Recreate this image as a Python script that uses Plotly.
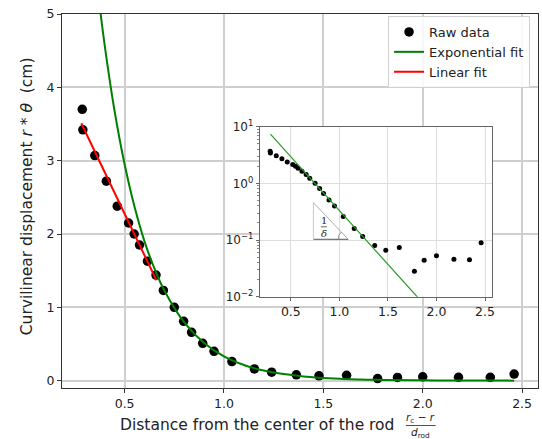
import plotly.graph_objects as go

# ---------------- data ----------------
x_raw = [0.287, 0.29, 0.35, 0.408, 0.463, 0.52, 0.548, 0.575, 0.615, 0.658,
         0.695, 0.75, 0.797, 0.837, 0.893, 0.95, 1.04, 1.153, 1.24, 1.364,
         1.478, 1.617, 1.773, 1.873, 2.0, 2.18, 2.34, 2.46]
y_raw = [3.70, 3.42, 3.07, 2.72, 2.38, 2.15, 2.0, 1.85, 1.63, 1.44,
         1.23, 1.0, 0.81, 0.66, 0.51, 0.40, 0.26, 0.16, 0.115, 0.08,
         0.066, 0.074, 0.028, 0.044, 0.053, 0.046, 0.045, 0.09]

x_exp = [0.29, 0.32, 0.35, 0.375, 0.40, 0.45, 0.50, 0.55, 0.60, 0.65, 0.70,
         0.80, 0.90, 1.00, 1.10, 1.20, 1.40, 1.60, 1.80, 2.00, 2.20, 2.46]
y_exp = [7.40, 6.49, 5.69, 5.10, 4.57, 3.67, 2.95, 2.37, 1.90, 1.53, 1.23,
         0.795, 0.513, 0.331, 0.214, 0.138, 0.0576, 0.024, 0.010, 0.0042,
         0.00174, 0.00056]

x_lin = [0.282, 0.66]
y_lin = [3.51, 1.37]

main_xticks = [0.5, 1.0, 1.5, 2.0, 2.5]
main_xticktext = ["0.5", "1.0", "1.5", "2.0", "2.5"]
main_yticks = [0, 1, 2, 3, 4, 5]
inset_yticks = [0.01, 0.1, 1, 10]
inset_yticktext = ["10<sup>−2</sup>", "10<sup>−1</sup>", "10<sup>0</sup>", "10<sup>1</sup>"]

# ---------------- layout geometry ----------------
W, H = 542, 439
L, R, T, B = 62, 1, 14, 51
PW, PH = W - L - R, H - T - B


def px(xp):
    return (xp - L) / PW


def py(yp):
    return (H - B - yp) / PH


FONT = "DejaVu Sans"
TXT = "#222222"

fig = go.Figure()

# main plot
fig.add_trace(go.Scatter(x=x_raw, y=y_raw, mode="markers", name="Raw data",
                         marker=dict(color="black", size=9.5), xaxis="x", yaxis="y"))
fig.add_trace(go.Scatter(x=x_exp, y=y_exp, mode="lines", name="Exponential fit",
                         line=dict(color="#008000", width=2, shape="spline"),
                         xaxis="x", yaxis="y"))
fig.add_trace(go.Scatter(x=x_lin, y=y_lin, mode="lines", name="Linear fit",
                         line=dict(color="#ff0000", width=2), xaxis="x", yaxis="y"))

# inset
fig.add_trace(go.Scatter(x=x_raw, y=y_raw, mode="markers", showlegend=False,
                         marker=dict(color="black", size=5), xaxis="x2", yaxis="y2"))
fig.add_trace(go.Scatter(x=x_exp, y=y_exp, mode="lines", showlegend=False,
                         line=dict(color="#2a9a2a", width=1.2), xaxis="x2", yaxis="y2"))

ix0, ix1 = px(261), px(495)
iy0, iy1 = py(296.7), py(126.7)

fig.update_layout(
    width=W, height=H,
    margin=dict(l=L, r=R, t=T, b=B),
    paper_bgcolor="white", plot_bgcolor="white",
    font=dict(family=FONT, color=TXT, size=12.5),
    xaxis=dict(domain=[0, 1], range=[0.185, 2.58], tickvals=main_xticks,
               ticktext=main_xticktext,
               showgrid=True, gridcolor="#cfcfcf", gridwidth=1.5,
               showline=True, linecolor="#333333", linewidth=1.3, mirror=True,
               ticks="outside", ticklen=4, tickcolor="#333333", zeroline=False,
               tickfont=dict(size=12.5)),
    yaxis=dict(domain=[0, 1], range=[-0.1, 5.0], tickvals=main_yticks,
               showgrid=True, gridcolor="#cfcfcf", gridwidth=1.5,
               showline=True, linecolor="#333333", linewidth=1.3, mirror=True,
               ticks="outside", ticklen=4, tickcolor="#333333", zeroline=False,
               tickfont=dict(size=12.5)),
    xaxis2=dict(domain=[ix0, ix1], anchor="y2", range=[0.18, 2.575],
                tickvals=main_xticks, ticktext=main_xticktext,
                showgrid=True, gridcolor="#dddddd", gridwidth=1,
                showline=True, linecolor="#666666", linewidth=1, mirror=True,
                ticks="outside", ticklen=3, tickcolor="#666666", zeroline=False,
                tickfont=dict(size=12.5)),
    yaxis2=dict(domain=[iy0, iy1], anchor="x2", type="log", range=[-2, 1],
                tickvals=inset_yticks, ticktext=inset_yticktext,
                showgrid=True, gridcolor="#dddddd", gridwidth=1,
                showline=True, linecolor="#666666", linewidth=1, mirror=True,
                ticks="outside", ticklen=3, tickcolor="#666666", zeroline=False,
                minor=dict(ticks="outside", ticklen=1.5, tickcolor="#888888",
                           dtick="D1", showgrid=False),
                tickfont=dict(size=12)),
    showlegend=True,
    legend=dict(x=px(533), y=py(16), xanchor="right", yanchor="top",
                bgcolor="rgba(255,255,255,0.85)", bordercolor="#d0d0d0",
                borderwidth=1, font=dict(size=13, family=FONT, color=TXT),
                tracegroupgap=0, itemwidth=30),
)

# axis titles as annotations
ann = []
ann.append(dict(text="Curvilinear displacement <i>r</i> * <i>θ</i>  (cm)",
                x=px(27), y=py(196), xref="paper", yref="paper", textangle=-90,
                showarrow=False, xanchor="center", yanchor="middle",
                font=dict(size=15.5, family=FONT, color=TXT)))
ann.append(dict(text="Distance from the center of the rod",
                x=px(118), y=py(425), xref="paper", yref="paper",
                showarrow=False, xanchor="left", yanchor="middle",
                font=dict(size=15.5, family=FONT, color=TXT)))
ann.append(dict(text="<i>r</i><sub>c</sub> − <i>r</i>",
                x=px(423), y=py(418), xref="paper", yref="paper",
                showarrow=False, xanchor="center", yanchor="middle",
                font=dict(size=10.5, family=FONT, color=TXT)))
ann.append(dict(text="<i>d</i><sub>rod</sub>",
                x=px(423), y=py(433), xref="paper", yref="paper",
                showarrow=False, xanchor="center", yanchor="middle",
                font=dict(size=10.5, family=FONT, color=TXT)))
# 1/delta in the inset
ann.append(dict(text="1", x=px(325.5), y=py(220.5), xref="paper", yref="paper",
                showarrow=False, xanchor="center", yanchor="middle",
                font=dict(size=10, family="DejaVu Serif", color=TXT)))
ann.append(dict(text="<i>δ</i>", x=px(325.5), y=py(233), xref="paper", yref="paper",
                showarrow=False, xanchor="center", yanchor="middle",
                font=dict(size=10, family="DejaVu Serif", color=TXT)))
fig.update_layout(annotations=ann)

shapes = []
# fraction bar in x title
shapes.append(dict(type="line", xref="paper", yref="paper",
                   x0=px(408), x1=px(438), y0=py(425.5), y1=py(425.5),
                   line=dict(color=TXT, width=0.8)))
# slope triangle
shapes.append(dict(type="line", xref="paper", yref="paper",
                   x0=px(315), x1=px(350), y0=py(239.3), y1=py(239.3),
                   line=dict(color="#777777", width=1.2)))
shapes.append(dict(type="line", xref="paper", yref="paper",
                   x0=px(315), x1=px(315), y0=py(239.3), y1=py(202.7),
                   line=dict(color="#bbbbbb", width=0.8)))
shapes.append(dict(type="line", xref="paper", yref="paper",
                   x0=px(315), x1=px(350), y0=py(202.7), y1=py(239.3),
                   line=dict(color="#999999", width=0.8)))
shapes.append(dict(type="line", xref="paper", yref="paper",
                   x0=px(322.5), x1=px(328.5), y0=py(226.8), y1=py(226.8),
                   line=dict(color=TXT, width=0.7)))
# angle arc
shapes.append(dict(type="path", xref="paper", yref="paper",
                   path="M %f %f Q %f %f %f %f" % (px(340), py(239.3), px(339.8), py(234.5),
                                                   px(343.1), py(232.0)),
                   line=dict(color="#777777", width=0.8)))
fig.update_layout(shapes=shapes)

fig.write_html("out.html",
               config={"displayModeBar": False},
               post_script="document.body.style.margin='0';"
                           "document.body.style.overflow='hidden';")
